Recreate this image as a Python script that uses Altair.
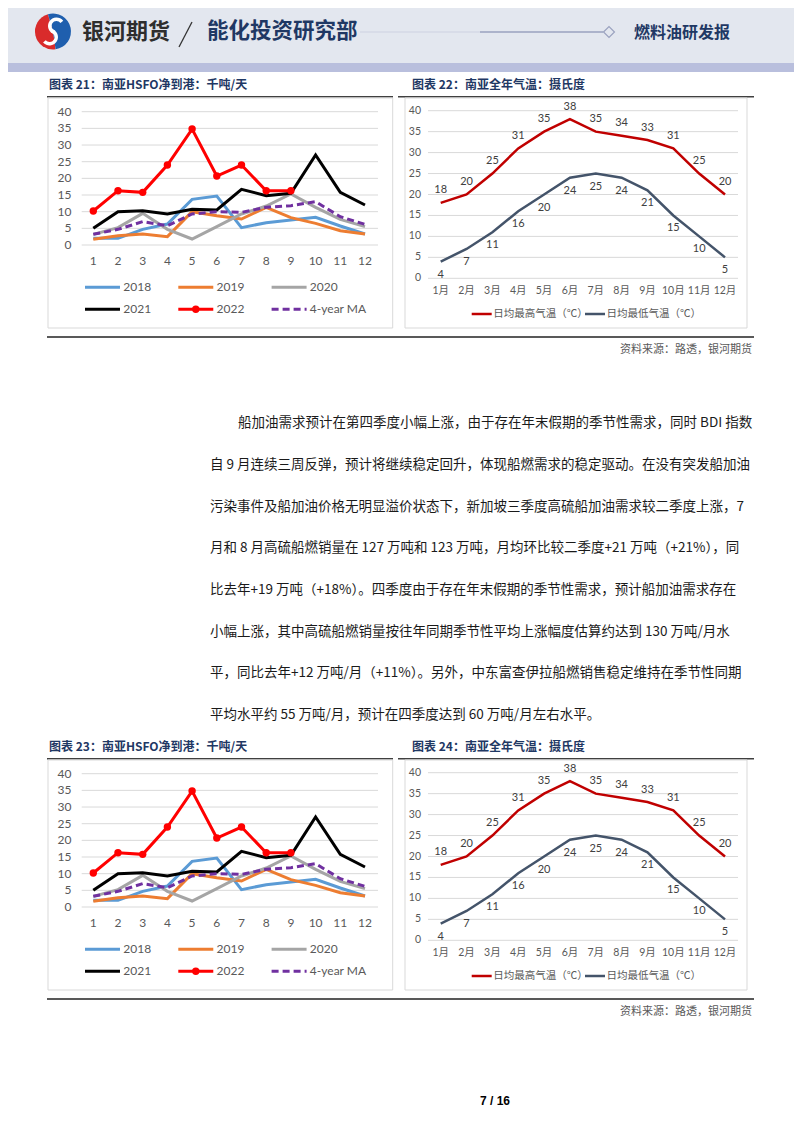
import altair as alt
import pandas as pd

# ---------------- data ----------------
MONTHS = list(range(1, 13))
MONTH_LABELS = [f"{m}月" for m in MONTHS]
Y_TICKS = [0, 5, 10, 15, 20, 25, 30, 35, 40]

SERIES_NAMES = ["2018", "2019", "2020", "2021", "2022", "4-year MA"]
SERIES_COLORS = ["#5b9bd5", "#ed7d31", "#a5a5a5", "#000000", "#ff0000", "#7030a0"]
HSFO_2018 = [2.0, 2.0, 4.7, 6.3, 13.7, 14.7, 5.2, 6.7, 7.5, 8.3, 5.7, 3.3]
HSFO_2019 = [1.7, 2.8, 3.3, 2.5, 10.0, 8.8, 7.8, 11.3, 8.2, 6.5, 4.3, 3.3]
HSFO_2020 = [3.2, 5.2, 9.5, 4.7, 1.8, 5.5, 9.3, 11.7, 15.3, 11.3, 7.7, 5.5]
HSFO_2021 = [5.0, 10.0, 10.3, 9.3, 10.7, 10.5, 16.7, 14.8, 15.5, 27.0, 15.8, 12.0]
HSFO_2022 = [10.2, 16.3, 15.8, 24.0, 34.8, 20.7, 24.0, 16.3, 16.3]
HSFO_MA = [3.2, 4.7, 7.0, 5.8, 9.3, 10.0, 9.8, 11.3, 11.8, 13.0, 8.5, 6.2]
HSFO_SERIES = [HSFO_2018, HSFO_2019, HSFO_2020, HSFO_2021, HSFO_2022, HSFO_MA]

TEMP_NAMES = ["日均最高气温（℃）", "日均最低气温（℃）"]
TEMP_COLORS = ["#c00000", "#44546a"]
TEMP_HIGH = [18, 20, 25, 31, 35, 38, 35, 34, 33, 31, 25, 20]
TEMP_LOW = [4, 7, 11, 16, 20, 24, 25, 24, 21, 15, 10, 5]

TITLE_21 = "图表 21：南亚HSFO净到港：千吨/天"
TITLE_22 = "图表 22：南亚全年气温：摄氏度"
TITLE_23 = "图表 23：南亚HSFO净到港：千吨/天"
TITLE_24 = "图表 24：南亚全年气温：摄氏度"
SOURCE = "资料来源：路透，银河期货"
HEADER_BRAND = "银河期货"
HEADER_DEPT = "能化投资研究部"
HEADER_REPORT = "燃料油研发报"
PAGE_NO = "7 / 16"
PARA_LINES = [
    "船加油需求预计在第四季度小幅上涨，由于存在年末假期的季节性需求，同时 BDI 指数",
    "自 9 月连续三周反弹，预计将继续稳定回升，体现船燃需求的稳定驱动。在没有突发船加油",
    "污染事件及船加油价格无明显溢价状态下，新加坡三季度高硫船加油需求较二季度上涨，7",
    "月和 8 月高硫船燃销量在 127 万吨和 123 万吨，月均环比较二季度+21 万吨（+21%），同",
    "比去年+19 万吨（+18%）。四季度由于存在年末假期的季节性需求，预计船加油需求存在",
    "小幅上涨，其中高硫船燃销量按往年同期季节性平均上涨幅度估算约达到 130 万吨/月水",
    "平，同比去年+12 万吨/月（+11%）。另外，中东富查伊拉船燃销售稳定维持在季节性同期",
    "平均水平约 55 万吨/月，预计在四季度达到 60 万吨/月左右水平。",
]

# ---------------- helpers ----------------
CJK = '"Noto Sans CJK SC"'
NUMF = 'Lato, "Noto Sans CJK SC"'
NAVY = "#1f3864"
W, H = 786, 1117


def P(v):
    return v - 8


def one(text):
    return pd.DataFrame({"t": [text]})


def text_at(text, x, y, size, color, align="left", weight="normal", font=CJK, baseline="middle"):
    return alt.Chart(one(text)).mark_text(
        align=align, baseline=baseline, fontSize=size, color=color,
        fontWeight=weight, font=font,
    ).encode(x=alt.value(P(x)), y=alt.value(P(y)), text="t:N")


def hline(x1, x2, y, color, width):
    return alt.Chart(one("")).mark_rule(color=color, strokeWidth=width).encode(
        x=alt.value(P(x1)), x2=alt.value(P(x2)), y=alt.value(P(y)))


def box(x1, x2, y1, y2, color):
    return alt.Chart(one("")).mark_rect(fill="white", stroke=color, strokeWidth=1).encode(
        x=alt.value(P(x1)), x2=alt.value(P(x2)), y=alt.value(P(y1)), y2=alt.value(P(y2)))


def arc(cx, cy, t1, t2, r_out, r_in, color):
    return alt.Chart(one("")).mark_arc(theta=t1, theta2=t2, outerRadius=r_out,
                                       innerRadius=r_in, color=color).encode(
        x=alt.value(P(cx)), y=alt.value(P(cy)))


grid_df = pd.DataFrame({"v": Y_TICKS})
month_df = pd.DataFrame({"m": MONTHS, "lab": MONTH_LABELS})


def hsfo_panel(dy):
    xs = alt.Scale(domain=[1, 12], range=[P(93.3), P(365)], nice=False, zero=False)
    ys = alt.Scale(domain=[0, 40], range=[P(245 + dy), P(111.7 + dy)], nice=False, zero=False)
    X = alt.X("m:Q", scale=xs, axis=None)
    Y = alt.Y("v:Q", scale=ys, axis=None)
    L = []
    L.append(box(48, 392.7, 98 + dy, 328 + dy, "#d9d9d9"))
    L.append(alt.Chart(grid_df).mark_rule(color="#d9d9d9", strokeWidth=1).encode(
        y=Y, x=alt.value(P(81.7)), x2=alt.value(P(378))))
    L.append(alt.Chart(grid_df).mark_text(align="right", baseline="middle", fontSize=12,
                                          color="#595959", font=NUMF).encode(
        y=Y, x=alt.value(P(71.5)), text="v:Q"))
    L.append(alt.Chart(month_df).mark_text(align="center", baseline="middle", fontSize=12,
                                           color="#595959", font=NUMF).encode(
        x=X, y=alt.value(P(261 + dy)), text="m:Q"))
    for name, color, vals in zip(SERIES_NAMES, SERIES_COLORS, HSFO_SERIES):
        df = pd.DataFrame({"m": MONTHS[:len(vals)], "v": vals})
        kw = dict(color=color, strokeWidth=3)
        if name == "4-year MA":
            kw["strokeDash"] = [7, 4]
        L.append(alt.Chart(df).mark_line(**kw).encode(x=X, y=Y))
        if name == "2022":
            L.append(alt.Chart(df).mark_point(filled=True, size=55, color=color, opacity=1).encode(x=X, y=Y))
    # legend
    lx = alt.Scale(domain=[0, 3], range=[P(85), P(85 + 3 * 93.3)], nice=False, zero=False)
    ly = alt.Scale(domain=[0, 1], range=[P(287.3 + dy), P(309.3 + dy)], nice=False, zero=False)
    leg = pd.DataFrame({"name": SERIES_NAMES, "i": list(range(len(SERIES_NAMES)))})
    base = alt.Chart(leg).transform_calculate(
        col="datum.i % 3", row="floor(datum.i / 3)",
        col2="datum.i % 3 + 0.375", colm="datum.i % 3 + 0.1875", colt="datum.i % 3 + 0.41")
    cscale = alt.Scale(domain=SERIES_NAMES, range=SERIES_COLORS)
    dscale = alt.Scale(domain=SERIES_NAMES, range=[[1, 0]] * 5 + [[7, 4]])
    L.append(base.mark_rule(strokeWidth=3).encode(
        x=alt.X("col:Q", scale=lx, axis=None), x2="col2:Q",
        y=alt.Y("row:Q", scale=ly, axis=None),
        color=alt.Color("name:N", scale=cscale, legend=None),
        strokeDash=alt.StrokeDash("name:N", scale=dscale, legend=None)))
    L.append(base.transform_filter("datum.name == '2022'").mark_point(
        filled=True, size=55, color="#ff0000", opacity=1).encode(
        x=alt.X("colm:Q", scale=lx, axis=None), y=alt.Y("row:Q", scale=ly, axis=None)))
    L.append(base.mark_text(align="left", baseline="middle", fontSize=12, color="#595959",
                            font=NUMF).encode(
        x=alt.X("colt:Q", scale=lx, axis=None), y=alt.Y("row:Q", scale=ly, axis=None),
        text="name:N"))
    return L


def temp_panel(dy):
    xs = alt.Scale(domain=[1, 12], range=[P(440.7), P(725)], nice=False, zero=False)
    ys = alt.Scale(domain=[0, 40], range=[P(278.3 + dy), P(110.7 + dy)], nice=False, zero=False)
    X = alt.X("m:Q", scale=xs, axis=None)
    Y = alt.Y("v:Q", scale=ys, axis=None)
    L = []
    L.append(box(405, 747, 98 + dy, 328 + dy, "#d9d9d9"))
    L.append(alt.Chart(grid_df).mark_rule(color="#d9d9d9", strokeWidth=1).encode(
        y=Y, x=alt.value(P(428)), x2=alt.value(P(738))))
    L.append(alt.Chart(grid_df).mark_text(align="right", baseline="middle", fontSize=10.5,
                                          color="#595959", font=NUMF).encode(
        y=Y, x=alt.value(P(421)), text="v:Q"))
    L.append(alt.Chart(month_df).mark_text(align="center", baseline="middle", fontSize=10.5,
                                           color="#595959", font=NUMF).encode(
        x=X, y=alt.value(P(290.7 + dy)), text="lab:N"))
    for vals, color, ddy in zip([TEMP_HIGH, TEMP_LOW], TEMP_COLORS, [-12.5, 13]):
        df = pd.DataFrame({"m": MONTHS, "v": vals})
        L.append(alt.Chart(df).mark_line(color=color, strokeWidth=2.5).encode(x=X, y=Y))
        L.append(alt.Chart(df).mark_text(align="center", baseline="middle", fontSize=11,
                                         color="#404040", font=NUMF, dy=ddy).encode(
            x=X, y=Y, text="v:Q"))
    # legend
    lx = alt.Scale(domain=[0, 1], range=[P(471.7), P(585)], nice=False, zero=False)
    leg = pd.DataFrame({"name": TEMP_NAMES, "i": list(range(len(TEMP_NAMES)))})
    base = alt.Chart(leg).transform_calculate(x1="datum.i", x2="datum.i + 0.1765",
                                              xt="datum.i + 0.19")
    cscale = alt.Scale(domain=TEMP_NAMES, range=TEMP_COLORS)
    L.append(base.mark_rule(strokeWidth=2.5).encode(
        x=alt.X("x1:Q", scale=lx, axis=None), x2="x2:Q", y=alt.value(P(314 + dy)),
        color=alt.Color("name:N", scale=cscale, legend=None)))
    L.append(base.mark_text(align="left", baseline="middle", fontSize=10.5, color="#595959",
                            font=NUMF).encode(
        x=alt.X("xt:Q", scale=lx, axis=None), y=alt.value(P(314 + dy)), text="name:N"))
    return L


layers = []

# ---------------- header ----------------
layers.append(alt.Chart(one("")).mark_rect(color="#e3e7ef").encode(
    x=alt.value(0), x2=alt.value(W), y=alt.value(0), y2=alt.value(P(63))))
layers.append(alt.Chart(one("")).mark_rect(color="#b9bfdd").encode(
    x=alt.value(0), x2=alt.value(W), y=alt.value(P(63)), y2=alt.value(P(72))))
# logo: red / blue disc with a white S band
layers.append(arc(53, 31.5, 3.0, 6.0, 18, 0, "#d92b2b"))
layers.append(arc(53, 31.5, 6.0, 9.28, 18, 0, "#1f5fae"))
layers.append(arc(56.5, 26, 3.4, 7.2, 8.5, 5, "white"))
layers.append(arc(49.5, 37, 0.26, 4.0, 8.5, 5, "white"))
layers.append(text_at(HEADER_BRAND, 82, 32, 22, "#2e2e2e", weight="bold"))
layers.append(alt.Chart(one("")).mark_rule(color="#333333", strokeWidth=1.3).encode(
    x=alt.value(P(192)), x2=alt.value(P(179)), y=alt.value(P(22)), y2=alt.value(P(47))))
layers.append(text_at(HEADER_DEPT, 207, 32, 21.5, NAVY, weight="bold"))
layers.append(hline(360, 480, 32, "#d5d9e6", 1.5))
layers.append(hline(480, 603, 32, "#9aa2bf", 1.5))
layers.append(alt.Chart(one("")).mark_point(shape="diamond", size=120, fill="#e3e7ef",
                                            stroke="#9aa2bf", strokeWidth=1.2, filled=False,
                                            opacity=1).encode(
    x=alt.value(P(609)), y=alt.value(P(32))))
layers.append(text_at(HEADER_REPORT, 634, 33, 16, NAVY, weight="bold"))

# ---------------- figure blocks ----------------
for dy, t1, t2 in [(0, TITLE_21, TITLE_22), (662, TITLE_23, TITLE_24)]:
    layers.append(text_at(t1, 49, 85 + dy, 12, NAVY, weight="bold"))
    layers.append(text_at(t2, 412, 85 + dy, 12, NAVY, weight="bold"))
    layers.append(hline(47, 393, 96.7 + dy, "#404040", 1.5))
    layers.append(hline(398, 754, 96.7 + dy, "#404040", 1.5))
    layers += hsfo_panel(dy)
    layers += temp_panel(dy)
    layers.append(hline(47, 754, 337 + dy, "#595959", 2))
    layers.append(text_at(SOURCE, 752, 350 + dy, 11, "#595959", align="right"))

# ---------------- paragraph ----------------
layers.append(text_at(PARA_LINES[0], 238, 423, 13.5, "#1a1a1a"))
para_df = pd.DataFrame({"i": list(range(1, len(PARA_LINES))), "t": PARA_LINES[1:]})
layers.append(alt.Chart(para_df).mark_text(align="left", baseline="middle", fontSize=13.5,
                                           color="#1a1a1a", font=CJK).encode(
    x=alt.value(P(210)),
    y=alt.Y("i:Q", scale=alt.Scale(domain=[1, 7], range=[P(465), P(715)], nice=False, zero=False),
            axis=None),
    text="t:N"))

# ---------------- footer ----------------
layers.append(text_at(PAGE_NO, 495, 1101, 12, "#000000", align="center", weight="bold",
                      font='"Liberation Sans", Arial'))

chart = alt.layer(*layers).resolve_scale(
    x="independent", y="independent", color="independent", strokeDash="independent"
).properties(
    width=W, height=H, autosize=alt.AutoSizeParams(type="none"), padding=0,
    background="white"
).configure_view(strokeWidth=0)

chart.save("out.html", embed_options={"renderer": "svg", "actions": False})
